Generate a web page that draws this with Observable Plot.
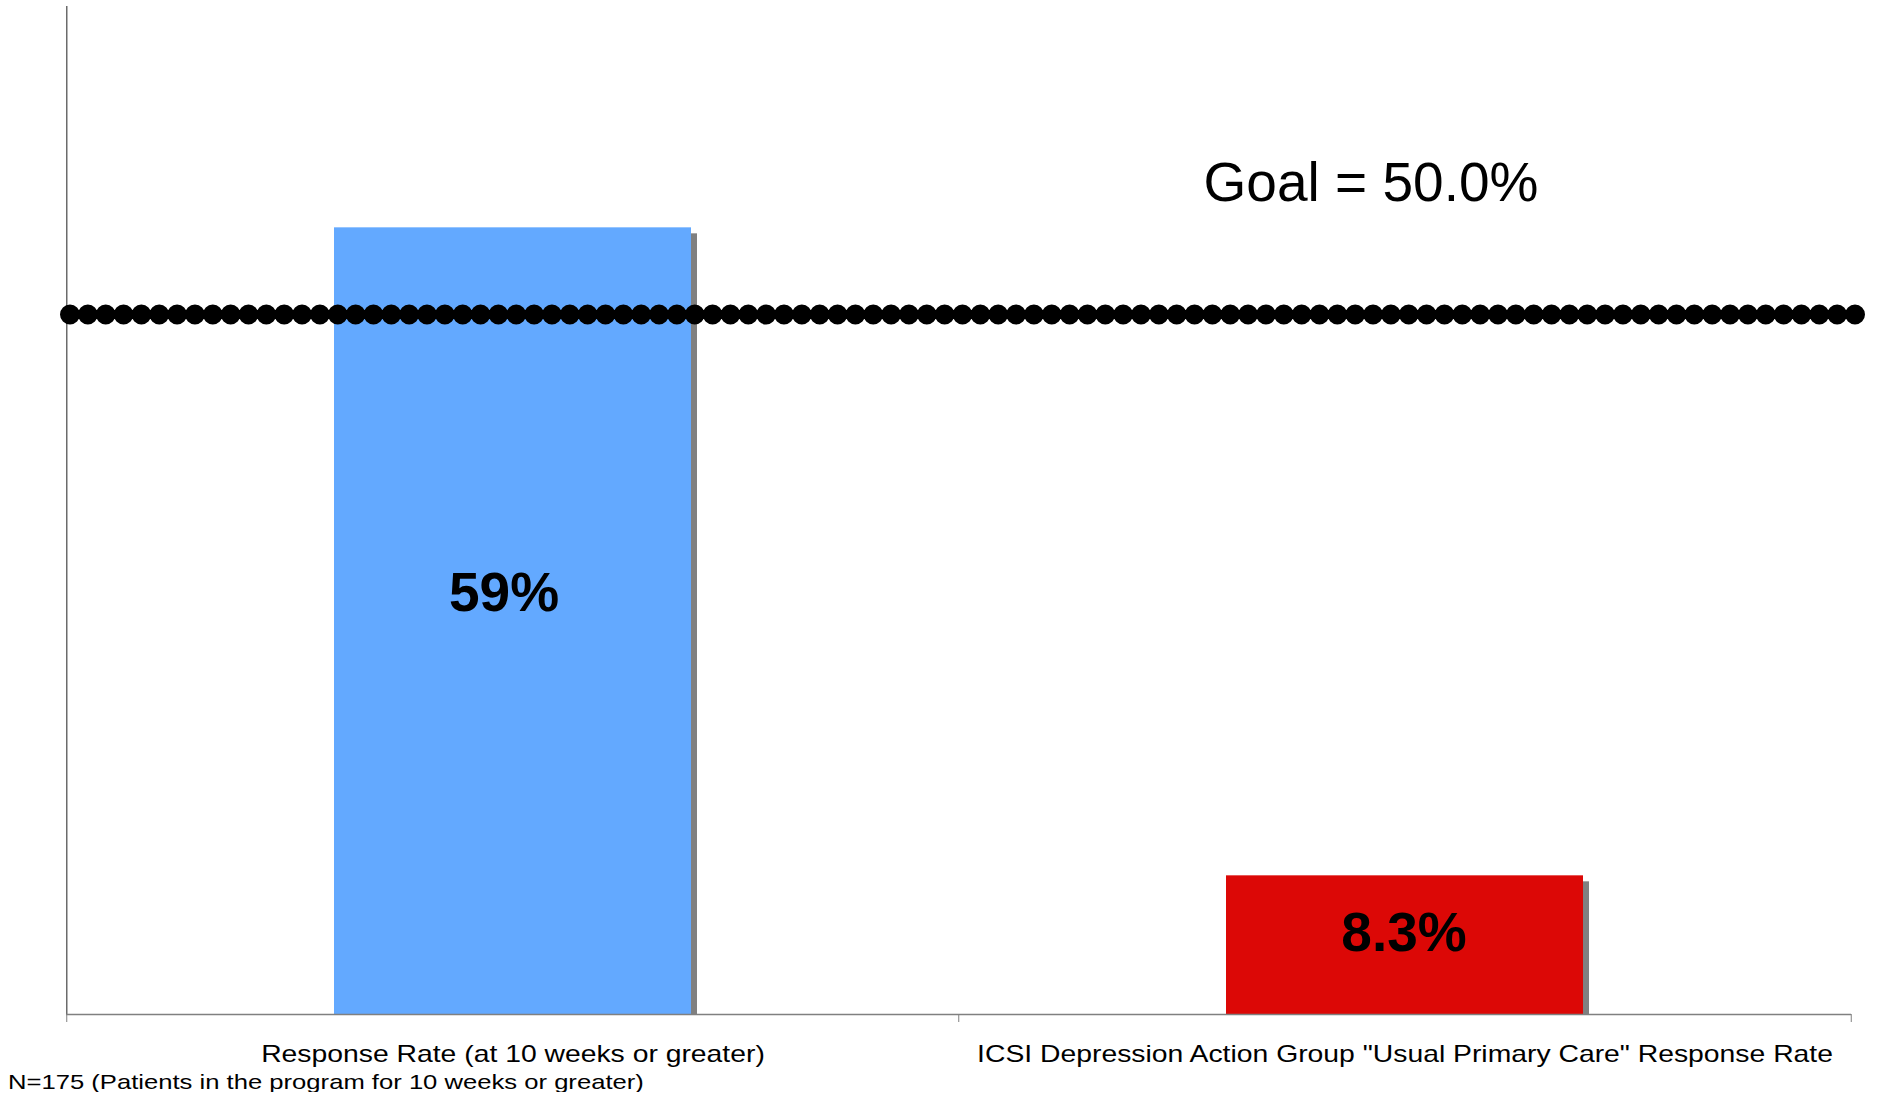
<!DOCTYPE html>
<html><head><meta charset="utf-8">
<script src="https://cdn.jsdelivr.net/npm/d3@7"></script>
<script src="https://cdn.jsdelivr.net/npm/@observablehq/plot@0.6"></script>
<style>
body{margin:0;background:#fff;}
#caption{font-family:"Liberation Sans",Arial,sans-serif;font-size:21px;line-height:21px;margin-left:8px;transform:scaleX(1.22);transform-origin:0 0;white-space:nowrap;color:#000;}
</style></head><body>
<div id="chart"></div>
<div id="caption"></div>
<script>
// ---- data ----
const categories = ["Response Rate (at 10 weeks or greater)", "ICSI Depression Action Group \"Usual Primary Care\" Response Rate"];
const values = [59, 10.4];          // bar heights as drawn
const valueLabels = ["59%", "8.3%"];
const barColors = ["#63A9FF", "#DC0806"];
const goalValue = [52.5];
const goalLabel = ["Goal = 50.0%"];
const yDomain = [0, 75.6];
const captionText = "N=175 (Patients in the program for 10 weeks or greater)";

const data = categories.map((c, i) => ({category: c, value: values[i], label: valueLabels[i]}));

// ---- layout ----
const W = 1881, H = 1071, ML = 66, MR = 30, MT = 6, MB = 57;
const padIn = 0.6, padOut = 0.3;
const step = (W - ML - MR) / (categories.length - padIn + 2 * padOut);
const half = step / 2;
const font = "Liberation Sans, Arial, sans-serif";

const plot = Plot.plot({
  width: W, height: H,
  marginLeft: ML, marginRight: MR, marginTop: MT, marginBottom: MB,
  style: {fontFamily: font, fontSize: "24px", background: "white", color: "black"},
  x: {domain: categories, paddingInner: padIn, paddingOuter: padOut, label: null, axis: null},
  y: {domain: yDomain, axis: null},
  color: {domain: categories, range: barColors},
  marks: [
    // shadows
    Plot.barY(data, {x: "category", y: "value", fill: "#808080", dx: 6, insetTop: 6}),
    Plot.barY(data, {x: "category", y: "value", fill: "category"}),
    // y axis line
    Plot.ruleX([categories[0]], {x: d => d, y1: yDomain[0], y2: yDomain[1], dx: -half, stroke: "#6b6b6b", strokeWidth: 1.5}),
    // baseline
    Plot.ruleY([0], {stroke: "#808080", strokeWidth: 1.5}),
    // boundary ticks
    Plot.axisX({ticks: categories, tickSize: 8, dx: -half, tickFormat: () => "", stroke: "#808080", label: null}),
    Plot.axisX({ticks: [categories[categories.length - 1]], tickSize: 8, dx: half, tickFormat: () => "", stroke: "#808080", label: null}),
    // category labels
    Plot.axisX({tickSize: 0, tickPadding: 30, fontSize: 24, label: null, fill: "black"}),
    // goal line
    Plot.ruleY(goalValue, {stroke: "black", strokeWidth: 20, strokeLinecap: "round", strokeDasharray: "0 17.85", insetLeft: 4, insetRight: -5}),
    Plot.text(goalLabel, {x: () => categories[1], y: () => goalValue[0], text: d => d, lineAnchor: "bottom", dx: -34, dy: -114, fontSize: 55, fill: "black"}),
    // value labels
    Plot.text(data.slice(0, 1), {x: "category", y: d => d.value / 2, text: "label", lineAnchor: "bottom", dx: -9, dy: -10, fontSize: 55, fontWeight: "bold", fill: "black"}),
    Plot.text(data.slice(1), {x: "category", y: d => d.value / 2, text: "label", lineAnchor: "bottom", dx: -1, dy: 6, fontSize: 55, fontWeight: "bold", fill: "black"})
  ]
});
document.getElementById("chart").appendChild(plot);
document.getElementById("caption").textContent = captionText;

// original category labels are horizontally stretched
plot.querySelectorAll('g[aria-label="x-axis tick label"] text').forEach(t => {
  const len = t.getComputedTextLength();
  if (len > 0) {
    t.setAttribute("textLength", (len * 1.18).toFixed(1));
    t.setAttribute("lengthAdjust", "spacingAndGlyphs");
  }
});
</script>
</body></html>
